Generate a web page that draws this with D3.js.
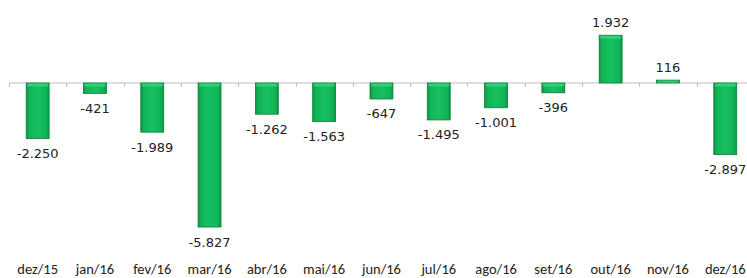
<!DOCTYPE html>
<html><head><meta charset="utf-8">
<script src="https://cdn.jsdelivr.net/npm/d3@7"></script>
<style>body{margin:0;background:#fff;overflow:hidden}svg{display:block}</style>
</head><body>
<script>
const categories = ["dez/15","jan/16","fev/16","mar/16","abr/16","mai/16","jun/16","jul/16","ago/16","set/16","out/16","nov/16","dez/16"];
const values = [-2250,-421,-1989,-5827,-1262,-1563,-647,-1495,-1001,-396,1932,116,-2897];

const W = 747, H = 278;
const svg = d3.select("body").append("svg").attr("width", W).attr("height", H);

const x = d3.scaleBand().domain(categories).range([9, 9 + 13 * 57.3]).padding(0);
const y = d3.scaleLinear().domain([-6000, 3000]).range([231.3, 8.84]);

const defs = svg.append("defs");
const g = defs.append("linearGradient").attr("id", "barg").attr("x1", "0").attr("x2", "1").attr("y1", "0").attr("y2", "0");
g.append("stop").attr("offset", "0").attr("stop-color", "#079a45");
g.append("stop").attr("offset", "0.15").attr("stop-color", "#12b458");
g.append("stop").attr("offset", "0.5").attr("stop-color", "#16c060");
g.append("stop").attr("offset", "0.85").attr("stop-color", "#12b458");
g.append("stop").attr("offset", "1").attr("stop-color", "#079a45");

const fmt = v => d3.format(",")(v).replace(/,/g, ".").replace("−", "-");

const y0 = y(0);
svg.append("line").attr("x1", 9).attr("x2", W).attr("y1", y0).attr("y2", y0)
  .attr("stroke", "#bfbfbf").attr("stroke-width", 1);
const tickPos = categories.map(c => x(c)).concat([x(categories[12]) + x.bandwidth()]);
svg.selectAll(".tick").data(tickPos).enter().append("line")
  .attr("x1", d => Math.round(d) + 0.5).attr("x2", d => Math.round(d) + 0.5)
  .attr("y1", y0).attr("y2", y0 + 4).attr("stroke", "#bfbfbf");

const bw = x.bandwidth() * 0.4;
const data = categories.map((c, i) => ({c, v: values[i]}));

svg.selectAll(".bar").data(data).enter().append("rect")
  .attr("x", d => x(d.c) + x.bandwidth() / 2 - bw / 2)
  .attr("y", d => Math.min(y(d.v), y0))
  .attr("width", bw)
  .attr("height", d => Math.max(Math.abs(y(d.v) - y0), 2))
  .attr("fill", "url(#barg)")
  .attr("stroke", "#0a7d38").attr("stroke-width", 0.8);

svg.selectAll(".hl").data(data).enter().append("rect")
  .attr("x", d => x(d.c) + x.bandwidth() / 2 - bw / 2 + 1)
  .attr("y", d => Math.min(y(d.v), y0) + 0.5)
  .attr("width", bw - 2)
  .attr("height", d => Math.min(3, Math.max(Math.abs(y(d.v) - y0), 2) - 1))
  .attr("fill", "#3fd985").attr("opacity", 0.7);

svg.selectAll(".val").data(data).enter().append("text")
  .attr("x", d => x(d.c) + x.bandwidth() / 2)
  .attr("y", d => d.v < 0 ? y(d.v) + 19.5 : y(d.v) - 8.5)
  .attr("text-anchor", "middle")
  .attr("font-family", "DejaVu Sans, Verdana, sans-serif")
  .attr("font-size", 13)
  .attr("fill", "#222")
  .text(d => fmt(d.v));

svg.selectAll(".cat").data(categories).enter().append("text")
  .attr("x", d => x(d) + x.bandwidth() / 2)
  .attr("y", 274)
  .attr("text-anchor", "middle")
  .attr("font-family", "Carlito, Liberation Sans, Arial, sans-serif")
  .attr("font-size", 14.5)
  .attr("fill", "#222")
  .text(d => d);
</script>
</body></html>
